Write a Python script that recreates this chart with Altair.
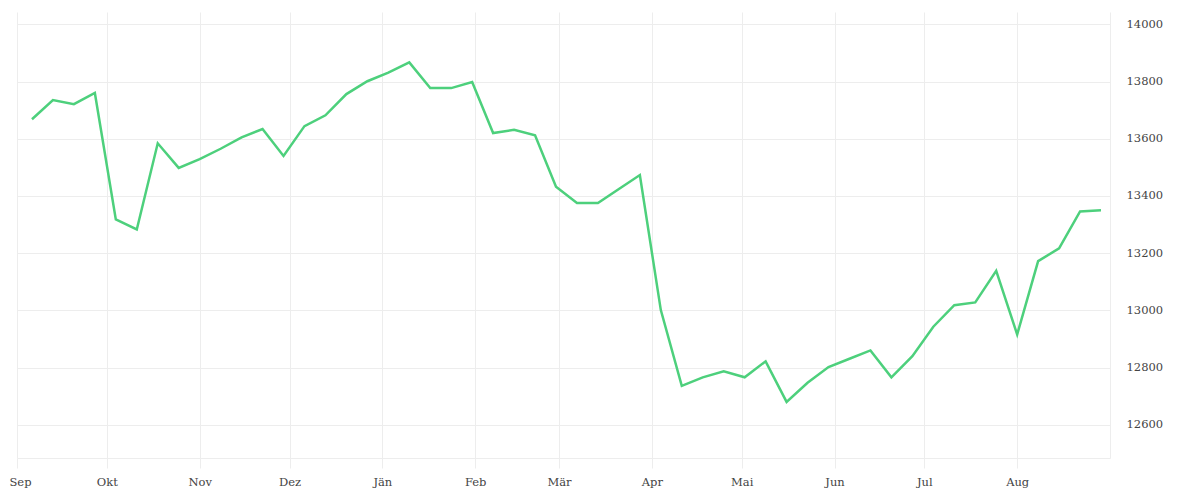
import json
import altair as alt
import pandas as pd

values = [13668, 13735, 13721, 13760, 13318, 13283, 13584, 13498, 13529, 13565,
          13605, 13634, 13540, 13644, 13682, 13756, 13801, 13831, 13867, 13777,
          13777, 13798, 13620, 13631, 13612, 13432, 13375, 13375, 13424, 13473,
          13001, 12736, 12766, 12787, 12766, 12822, 12680, 12747, 12802, 12831,
          12860, 12766, 12840, 12943, 13018, 13028, 13138, 12916, 13172, 13217,
          13346, 13350]
start_date = "2022-09-06"
dates = pd.date_range(start_date, periods=len(values), freq="7D").strftime("%Y-%m-%d").tolist()

month_names = ["Jän", "Feb", "Mär", "Apr", "Mai", "Jun", "Jul", "Aug", "Sep", "Okt", "Nov", "Dez"]
tick_months = pd.date_range("2022-09-01", periods=12, freq="MS")
tick_values = [int(t.value // 1_000_000) for t in tick_months]
x_domain = [int(pd.Timestamp("2022-09-01").value // 1_000_000),
            int(pd.Timestamp("2023-09-01").value // 1_000_000)]
y_ticks = [12600, 12800, 13000, 13200, 13400, 13600, 13800, 14000]

df = pd.DataFrame({"date": dates, "value": values})

FONT = "DejaVu Serif"
GRID = "#ededed"

chart = alt.Chart(df).mark_line(color="#4dd07c", strokeWidth=2.5).encode(
    x=alt.X("date:T",
            scale=alt.Scale(type="utc", domain=x_domain, nice=False),
            axis=alt.Axis(title=None, values=tick_values,
                          labelExpr=json.dumps(month_names) + "[utcmonth(datum.value)]",
                          grid=True, ticks=True, tickSize=10, labelPadding=8,
                          labelAngle=0, labelFlush=False,
                          labelOffset={"condition": {"test": "utcmonth(datum.value) == 8",
                                                     "value": 3}, "value": 0})),
    y=alt.Y("value:Q",
            scale=alt.Scale(domain=[12484, 14043], nice=False, zero=False),
            axis=alt.Axis(title=None, orient="right", values=y_ticks, format="d",
                          ticks=False, labelPadding=16, grid=True, labelFlush=False)),
).properties(
    width=1093, height=446,
    autosize=alt.AutoSizeParams(type="none"),
    padding={"left": 9, "top": 4, "right": 80, "bottom": 40},
).configure_view(stroke=None).configure_axis(
    gridColor=GRID, domainColor=GRID, tickColor=GRID,
    labelFont=FONT, labelFontSize=11.5, labelColor="#444444",
)

chart.save("out.html", embed_options={"renderer": "svg", "actions": False})
